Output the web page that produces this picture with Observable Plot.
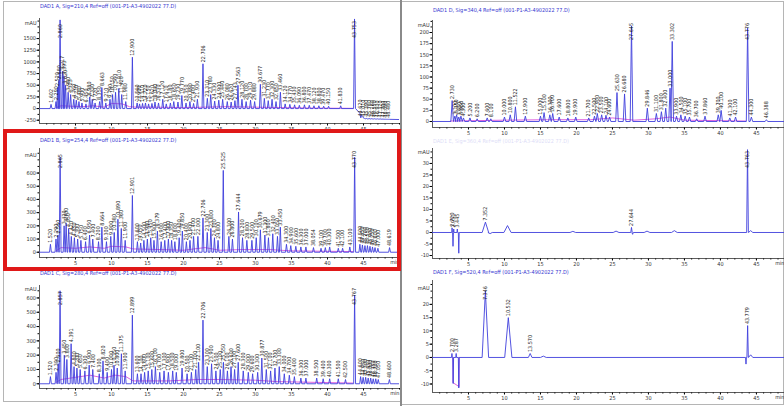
<!DOCTYPE html>
<html><head><meta charset="utf-8">
<script src="https://cdn.jsdelivr.net/npm/d3@7"></script>
<script src="https://cdn.jsdelivr.net/npm/@observablehq/plot@0.6"></script>
<style>
html,body{margin:0;padding:0;background:#fff;overflow:hidden;}
#wrap{position:relative;width:784px;height:406px;font-family:"Liberation Sans Narrow","DejaVu Sans Condensed","Liberation Sans",Arial,sans-serif;}
.panel{position:absolute;}
.title{position:absolute;font-size:5.5px;color:#3535d0;white-space:nowrap;font-stretch:condensed;}
.box{position:absolute;box-sizing:border-box;}
</style></head><body><div id="wrap"></div>
<script>
// ---------- DATA ----------
const titles = {
  A: "DAD1 A, Sig=210,4 Ref=off (001-P1-A3-4902022 77.D)",
  B: "DAD1 B, Sig=254,4 Ref=off (001-P1-A3-4902022 77.D)",
  C: "DAD1 C, Sig=280,4 Ref=off (001-P1-A3-4902022 77.D)",
  D: "DAD1 D, Sig=340,4 Ref=off (001-P1-A3-4902022 77.D)",
  E: "DAD1 E, Sig=360,4 Ref=off (001-P1-A3-4902022 77.D)",
  F: "DAD1 F, Sig=520,4 Ref=off (001-P1-A3-4902022 77.D)"
};
const xTickLabels = [5,10,15,20,25,30,35,40,45];

const aTimes = [1.602,2.290,2.520,2.680,2.860,3.217,3.393,3.620,3.980,4.323,4.760,5.110,5.480,5.900,6.450,6.980,7.330,7.720,8.350,8.663,9.210,9.790,10.150,10.560,11.010,11.420,11.980,12.900,13.560,13.900,14.310,14.720,15.150,15.620,16.040,16.530,17.120,17.610,18.180,18.650,19.230,19.770,20.350,20.890,21.400,21.930,22.706,23.310,23.780,24.330,24.900,25.440,26.080,26.620,27.143,27.563,28.120,28.700,29.310,29.880,30.677,31.230,31.770,32.300,32.850,33.460,34.120,34.770,35.430,36.090,36.800,37.470,38.120,38.800,39.470,40.150,41.830,43.753,44.620,45.010,45.390,45.780,46.160,46.550,46.930,47.320,47.700,48.090,48.480];
const aHeights = [90,150,450,600,1900,800,700,500,350,300,200,180,150,120,100,250,200,120,150,450,120,200,300,350,430,300,150,1100,120,100,110,120,100,110,140,120,200,100,120,150,140,280,120,150,110,200,960,220,300,160,180,200,150,140,170,500,200,150,180,150,520,220,170,200,150,350,100,90,80,70,80,70,60,60,50,50,60,1920,-200,-205,-210,-212,-215,-218,-220,-222,-225,-228,-230];
const aBaseline = [[0,0],[43.9,0],[45.2,-220],[50,-235]];
const aPink = [[2.3,20],[3,60],[4.5,50],[6,40],[7.5,60],[9,30],[10,110],[11.5,100],[12.5,40],[13.5,30],[16,30],[20,20],[23,30],[26,40],[30,30],[34,20],[38,10],[43.5,5]];
const aYTicks = [-250,0,250,500,750,1000,1250,1500];

const bTimes = [1.520,2.290,2.560,2.865,3.420,3.700,4.050,4.420,4.850,5.300,5.750,6.400,6.950,7.400,8.200,8.664,9.300,9.900,10.380,10.890,11.360,11.900,12.901,13.600,14.050,14.500,14.980,15.450,15.900,16.379,16.900,17.400,17.900,18.350,18.800,19.400,19.850,20.400,20.900,21.400,22.000,22.706,23.300,23.800,24.300,24.800,25.525,26.300,26.800,27.644,28.200,28.800,29.500,30.100,30.679,31.300,31.800,32.400,33.050,33.450,34.300,34.900,35.600,36.300,37.000,38.054,39.100,39.700,40.300,41.500,42.100,43.100,43.770,44.500,44.850,45.200,45.550,45.900,46.250,46.600,47.000,48.619];
const bHeights = [60,100,130,720,200,220,180,120,110,100,90,80,130,100,80,190,80,120,150,250,180,90,430,80,70,90,100,110,90,160,80,90,100,90,80,110,160,80,90,120,120,260,150,180,110,90,620,120,100,305,110,90,90,110,170,130,110,140,120,190,60,50,45,40,40,35,30,35,40,30,30,40,720,60,55,50,50,45,40,35,30,35];
const bPink = [[2.3,10],[3,35],[5,30],[7,40],[9,30],[10,45],[12,40],[13,25],[17,20],[20,15],[23,35],[25,15],[28,20],[32,20],[35,10],[43.5,5]];
const bYTicks = [0,100,200,300,400,500,600];

const cTimes = [1.520,2.300,2.600,2.857,3.450,3.800,4.391,4.800,5.200,5.650,6.300,6.900,7.400,8.300,8.820,9.400,10.000,10.350,10.800,11.375,11.900,12.899,13.600,14.100,14.600,15.100,15.600,16.100,16.700,17.300,17.900,18.500,19.000,19.800,20.500,21.100,21.700,22.100,22.706,23.300,23.900,24.500,25.100,25.550,26.100,26.600,27.100,27.600,28.300,29.000,29.600,30.300,30.877,31.500,32.100,32.700,33.300,34.000,34.700,35.400,36.300,37.000,38.500,39.400,40.300,41.500,42.500,43.767,44.600,44.950,45.300,45.650,46.000,46.350,46.700,47.050,48.600];
const cHeights = [50,80,140,650,200,170,280,120,110,100,90,130,100,70,160,80,100,130,110,210,90,480,70,70,80,90,100,120,80,90,80,90,80,110,70,80,100,150,445,120,140,90,100,150,90,120,100,150,90,80,70,80,180,100,90,110,120,70,60,50,40,40,40,35,35,35,30,620,50,45,45,40,40,35,35,30,30];
const cPink = [[2.3,10],[3,30],[5,45],[7,60],[9,40],[10.5,60],[12,50],[13,20],[18,20],[22,30],[25,30],[30,25],[33,15],[43.5,5]];
const cYTicks = [0,100,200,300,400,500,600];

const dTimes = [2.730,3.100,3.350,3.650,3.950,4.300,5.200,6.200,7.600,8.100,10.000,10.800,11.522,12.900,15.000,15.500,16.300,16.700,17.600,18.800,19.900,21.700,22.500,22.900,23.500,24.100,24.600,25.630,26.680,27.645,29.846,31.100,31.800,32.400,33.000,33.302,33.900,34.500,35.100,35.700,36.700,37.860,39.700,40.100,41.300,42.100,43.776,44.300,46.388];
const dHeights = [47,12,15,10,12,8,8,6,8,6,10,15,33,12,12,20,15,18,10,8,10,8,12,18,15,14,10,65,62,215,30,18,22,30,75,180,12,15,12,10,6,12,15,25,8,10,210,10,4];
const dPink = [[2.5,1],[10,3],[16,4],[22,4],[25,8],[28,3],[31,6],[33,10],[35,3],[43.5,1]];
const dYTicks = [0,25,50,75,100,125,150,175,200];

const eTimes = [2.720,2.850,2.951,3.445,3.650,7.352,8.000,10.420,19.500,25.500,27.644,27.800,29.800,33.600,43.763,44.200];
const eHeights = [2,-6,1.5,1.5,-9,4.5,-0.5,3,0.5,0.6,2.2,-0.8,0.6,0.8,36,0.8];
const eWidths = [0.05,0.06,0.05,0.05,0.06,0.45,0.3,0.5,0.4,0.4,0.1,0.1,0.4,0.4,0.12,0.3];
const eLabels = [2.720,2.951,3.445,7.352,27.644,43.763];
const eYTicks = [-10,-5,0,5,10,15,20,25,30];

const fTimes = [2.700,2.870,3.287,3.650,7.346,10.532,13.570,15.400,43.550,43.779,44.200];
const fHeights = [1.5,-9.8,1.5,-11.5,25,15,1.5,0.5,-2.5,12,1];
const fWidths = [0.05,0.06,0.05,0.06,0.45,0.5,0.25,0.4,0.06,0.1,0.3];
const fLabels = [2.700,3.287,7.346,10.532,13.570,43.779];
const fPink = [[2.85,0],[2.85,-9.5],[3.7,-11],[3.7,0]];
const fYTicks = [-10,-5,0,5,10,15,20];

// ---------- DRAW ----------
const fmt = d3.format(".3f");
const wrap = document.getElementById("wrap");

function baseAt(knots, t) {
  if (!knots) return 0;
  return d3.scaleLinear().domain(knots.map(k => k[0])).range(knots.map(k => k[1])).clamp(true)(t);
}

function buildTrace(times, heights, widths, defW, knots, xDomain) {
  const events = [];
  times.forEach((t, i) => {
    const w = widths ? widths[i] : defW;
    events.push({key: t, pts: [{t: t - w, v: baseAt(knots, t - w)}, {t, v: heights[i]}, {t: t + w, v: baseAt(knots, t + w)}]});
  });
  (knots || []).forEach(k => events.push({key: k[0], pts: [{t: k[0], v: k[1]}]}));
  events.push({key: xDomain[0], pts: [{t: xDomain[0], v: baseAt(knots, xDomain[0])}]});
  events.push({key: xDomain[1], pts: [{t: xDomain[1], v: baseAt(knots, xDomain[1])}]});
  events.sort((a, b) => a.key - b.key);
  return events.flatMap(e => e.pts);
}

function panel(cfg) {
  const {left, top, width, height, mt, mb, ml, mr, xDomain, yDomain, yTicks, yMinorStep} = cfg;
  const plotH = height - mt - mb;
  const cap = yDomain[1] - (yDomain[1] - yDomain[0]) * 21 / plotH;
  const trace = buildTrace(cfg.times, cfg.heights, cfg.widths, cfg.defW, cfg.baseline, xDomain);
  const labelSet = cfg.labels ? new Set(cfg.labels) : null;
  const labs = cfg.times.map((t, i) => ({t, h: cfg.heights[i]}))
    .filter(d => labelSet ? labelSet.has(d.t) : true)
    .map(d => ({t: d.t, y: Math.min(d.h, cap), s: fmt(d.t)}));
  const pink = (cfg.pink || []).map(p => ({t: p[0], v: p[1]}));
  const yMinor = d3.range(yTicks[0], yDomain[1], yMinorStep).filter(v => v >= yDomain[0]);
  const xMinor = d3.range(1, Math.floor(xDomain[1]) + 1);
  const plain = d => String(d);
  const marks = [
    Plot.axisY(yMinor, {tickSize: 1.5, tickFormat: () => "", label: null}),
    Plot.axisY(yTicks, {tickSize: 2.5, tickPadding: 1, fontSize: 5.5, label: null, fill: "#333", tickFormat: plain}),
    Plot.axisX(xMinor, {tickSize: 1.5, tickFormat: () => "", label: null}),
    Plot.axisX(xTickLabels, {tickSize: 2.5, tickPadding: 1, fontSize: 5.5, label: null, fill: "#333", tickFormat: plain}),
    Plot.ruleY([yDomain[0]], {stroke: "#333", strokeWidth: 0.8}),
    Plot.ruleX([xDomain[0]], {stroke: "#333", strokeWidth: 0.8}),
    Plot.line(pink, {x: "t", y: "v", stroke: "#d63cd6", strokeWidth: 0.8, clip: true}),
    Plot.line(trace, {x: "t", y: "v", stroke: "#3f3fdc", strokeWidth: 0.9, clip: true}),
    Plot.text(labs, {x: "t", y: "y", text: "s", rotate: -90, textAnchor: "start", dy: -1.5, fontSize: 5.4, fill: "#1c1c1c"}),
    Plot.text(["mAU"], {frameAnchor: "top-left", textAnchor: "end", dx: -3, dy: cfg.mauDy, fontSize: 5.5, fill: "#333"})
  ];
  if (cfg.minLabel) marks.push(Plot.text(["min"], {frameAnchor: "bottom-right", textAnchor: "end", dy: 6.5, dx: 0, fontSize: 5.5, fill: "#333"}));
  const svg = Plot.plot({
    width, height, marginTop: mt, marginBottom: mb, marginLeft: ml, marginRight: mr,
    x: {domain: xDomain}, y: {domain: yDomain},
    style: {background: "transparent", fontFamily: "'Liberation Sans Narrow','DejaVu Sans Condensed','Liberation Sans',sans-serif", overflow: "visible"},
    marks
  });
  svg.classList.add("panel");
  svg.style.position = "absolute";
  svg.style.left = left + "px";
  svg.style.top = top + "px";
  wrap.appendChild(svg);
  const t = document.createElement("div");
  t.className = "title";
  t.textContent = cfg.title;
  t.style.left = cfg.titleX + "px";
  t.style.top = cfg.titleY + "px";
  if (cfg.titleOpacity) t.style.opacity = cfg.titleOpacity;
  wrap.appendChild(t);
}

function box(l, t, w, h, css) {
  const d = document.createElement("div");
  d.className = "box";
  Object.assign(d.style, {left: l + "px", top: t + "px", width: w + "px", height: h + "px"}, css);
  wrap.appendChild(d);
}

// frames
box(3, 1, 398, 401, {border: "1px solid #b5b5b5"});
box(401, 1, 383, 404, {border: "1px solid #b5b5b5"});
box(400, 0, 2, 406, {background: "#8a8a8a"});

const L = {ml: 39, mr: 1, xDomain: [0, 50]};
const R = {ml: 32, mr: 0, xDomain: [0, 48.9]};

panel({...L, left: 0, top: 0, width: 400, height: 133, mt: 18, mb: 10, yDomain: [-320, 1930], yTicks: aYTicks, yMinorStep: 125,
  times: aTimes, heights: aHeights, defW: 0.13, baseline: aBaseline, pink: aPink, mauDy: 3,
  title: titles.A, titleX: 40, titleY: 3});
panel({...L, left: 0, top: 133, width: 400, height: 133, mt: 15, mb: 9, yDomain: [-40, 786], yTicks: bYTicks, yMinorStep: 50,
  times: bTimes, heights: bHeights, defW: 0.13, pink: bPink, mauDy: 5, minLabel: true,
  title: titles.B, titleX: 40, titleY: 137});
panel({...L, left: 0, top: 266, width: 400, height: 140, mt: 19, mb: 18, yDomain: [-33, 687], yTicks: cYTicks, yMinorStep: 50,
  times: cTimes, heights: cHeights, defW: 0.13, pink: cPink, mauDy: 2, minLabel: true,
  title: titles.C, titleX: 40, titleY: 270});
panel({...R, left: 400, top: 0, width: 384, height: 138, mt: 20, mb: 11, yDomain: [-13.5, 227], yTicks: dYTicks, yMinorStep: 12.5,
  times: dTimes, heights: dHeights, defW: 0.18, pink: dPink, mauDy: 3,
  title: titles.D, titleX: 433, titleY: 7});
panel({...R, left: 400, top: 138, width: 384, height: 128, mt: 10, mb: 8, yDomain: [-11.3, 36.5], yTicks: eYTicks, yMinorStep: 2.5,
  times: eTimes, heights: eHeights, widths: eWidths, labels: eLabels, mauDy: 2, minLabel: true,
  title: titles.E, titleX: 433, titleY: 138, titleOpacity: 0.18});
panel({...R, left: 400, top: 266, width: 384, height: 140, mt: 14, mb: 14, yDomain: [-13.2, 29], yTicks: fYTicks, yMinorStep: 2.5,
  times: fTimes, heights: fHeights, widths: fWidths, labels: fLabels, pink: fPink, mauDy: 6, minLabel: true,
  title: titles.F, titleX: 433, titleY: 269});

// highlight box
box(3, 129, 398, 142, {border: "4px solid #e01818"});
</script>
</body></html>
